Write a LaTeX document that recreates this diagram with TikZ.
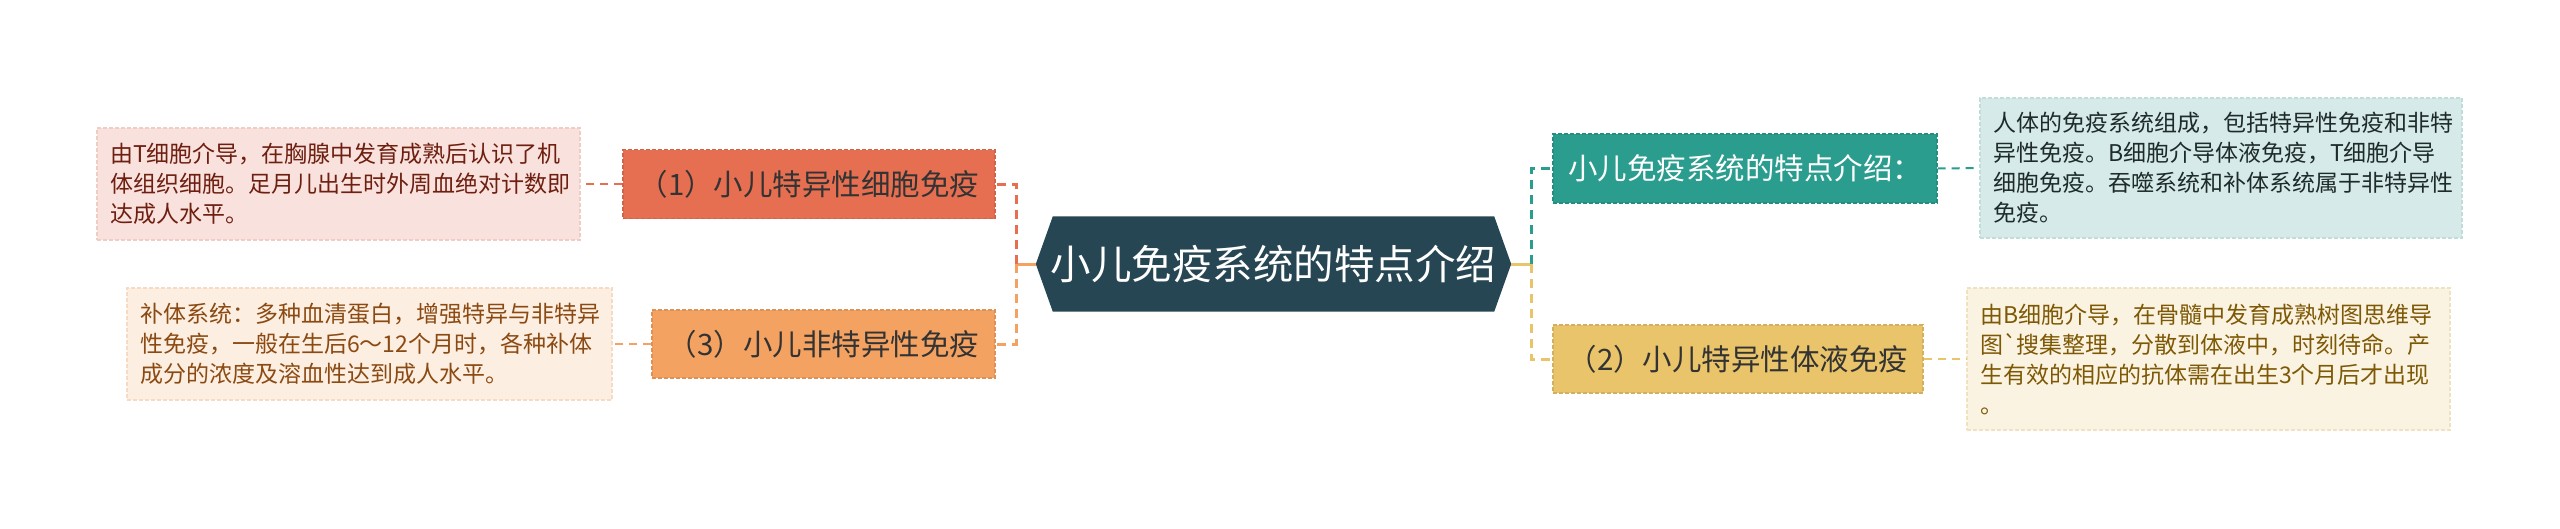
\documentclass[tikz,border=0pt]{standalone}
\usepackage{fontspec}
\setmainfont{Noto Sans CJK SC}[Ligatures=TeXOff]
\usetikzlibrary{backgrounds}
\definecolor{cdark}{HTML}{264653}
\definecolor{cred}{HTML}{E76F51}
\definecolor{corange}{HTML}{F4A261}
\definecolor{cteal}{HTML}{2A9D8F}
\definecolor{cgold}{HTML}{E9C46A}
\definecolor{ltext}{HTML}{333333}
\definecolor{lfA}{HTML}{F9E2DD}\definecolor{lbA}{HTML}{F0CDC3}\definecolor{ltA}{HTML}{6E1F10}
\definecolor{lfB}{HTML}{FDEEE2}\definecolor{lbB}{HTML}{F6DAC4}\definecolor{ltB}{HTML}{8B4A12}
\definecolor{lfC}{HTML}{D6EBE9}\definecolor{lbC}{HTML}{C0DDD9}\definecolor{ltC}{HTML}{1E2B2A}
\definecolor{lfD}{HTML}{FBF3E2}\definecolor{lbD}{HTML}{F0E2C0}\definecolor{ltD}{HTML}{7E5905}
\begin{document}
\begin{tikzpicture}[x=1pt,y=-1pt,
  mainbox/.style={inner sep=0pt, minimum height=68pt, line width=1.2pt, dashed,
    dash pattern=on 4pt off 2pt, font=\fontsize{29.5}{35}\selectfont},
  leafbox/.style={align=left, inner xsep=13pt, inner ysep=0pt, line width=1.2pt, dashed,
    dash pattern=on 4pt off 2pt, font=\fontsize{23}{30}\selectfont},
  branch/.style={line width=3pt, dash pattern=on 9pt off 6pt},
  leafline/.style={line width=2pt, dash pattern=on 8pt off 6pt},
  stub/.style={line width=3pt}
]
\useasboundingbox (0,0) rectangle (2560,528);

% central
\node[inner sep=0pt, minimum width=475pt, minimum height=95pt, text=white,
  font=\fontsize{40.5}{46}\selectfont] (C) at (1273.5,264) {小儿免疫系统的特点介绍};
\begin{scope}[on background layer]
\fill[white] (0,0) rectangle (2560,528);
\fill[cdark] (C.west) -- ([xshift=17pt]C.north west) -- ([xshift=-17pt]C.north east)
  -- (C.east) -- ([xshift=-17pt]C.south east) -- ([xshift=17pt]C.south west) -- cycle;
\end{scope}

% main branch nodes
\node[mainbox, fill=cred, draw=cred!90!black, text=ltext, minimum width=372pt, minimum height=69pt]
  (N1) at (809,184) {（1）小儿特异性细胞免疫};
\node[mainbox, fill=corange, draw=corange!90!black, text=ltext, minimum width=343pt]
  (N3) at (823.5,344) {（3）小儿非特异性免疫};
\node[mainbox, fill=cteal, draw=cteal!90!black, text=white, minimum width=384pt, minimum height=69pt]
  (R1) at (1745,168.5) {小儿免疫系统的特点介绍：};
\node[mainbox, fill=cgold, draw=cgold!90!black, text=ltext, minimum width=370pt]
  (R2) at (1738,359) {（2）小儿特异性体液免疫};

% leaves
\node[leafbox, fill=lfA, draw=lbA, text=ltA, text width=457pt, minimum height=112pt]
  (L1) at (338.5,184) {由T细胞介导，在胸腺中发育成熟后认识了机\\体组织细胞。足月儿出生时外周血绝对计数即\\达成人水平。};
\node[leafbox, fill=lfB, draw=lbB, text=ltB, text width=459pt, minimum height=112pt]
  (L3) at (369.5,344) {补体系统：多种血清蛋白，增强特异与非特异\\性免疫，一般在生后6～12个月时，各种补体\\成分的浓度及溶血性达到成人水平。};
\node[leafbox, fill=lfC, draw=lbC, text=ltC, text width=456pt, minimum height=140pt]
  (RL1) at (2221,168) {人体的免疫系统组成，包括特异性免疫和非特\\异性免疫。B细胞介导体液免疫，T细胞介导\\细胞免疫。吞噬系统和补体系统属于非特异性\\免疫。};
\node[leafbox, fill=lfD, draw=lbD, text=ltD, text width=457pt, minimum height=142pt]
  (RL2) at (2208.5,359) {由B细胞介导，在骨髓中发育成熟树图思维导\\图`搜集整理，分散到体液中，时刻待命。产\\生有效的相应的抗体需在出生3个月后才出现\\。};

% connectors
\coordinate (JL) at (1016,264);
\coordinate (JR) at (1531,264);
\draw[stub, corange] (C.west) -- (JL);
\draw[branch, cred] (JL) |- (N1.east);
\draw[branch, corange] (JL) |- (N3.east);
\draw[stub, cgold] (C.east) -- (JR);
\draw[branch, cteal] (JR) |- (R1.west);
\draw[branch, cgold] (JR) |- (R2.west);
\draw[leafline, cred] (N1.west) -- (L1.east);
\draw[leafline, corange] (N3.west) -- (L3.east);
\draw[leafline, cteal] (R1.east) -- (RL1.west);
\draw[leafline, cgold] (R2.east) -- (RL2.west);
\end{tikzpicture}
\end{document}
